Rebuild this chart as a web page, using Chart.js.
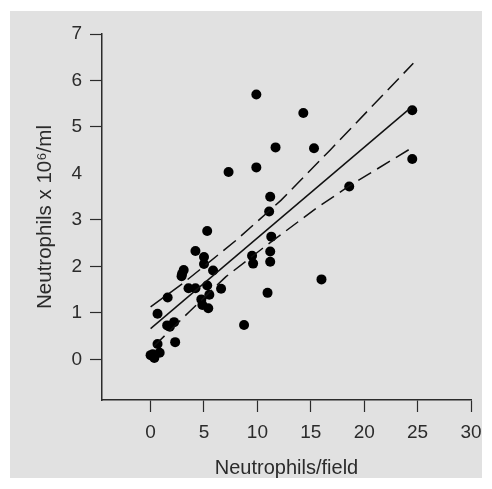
<!DOCTYPE html>
<html>
<head>
<meta charset="utf-8">
<script src="https://cdn.jsdelivr.net/npm/chart.js@4/dist/chart.umd.min.js"></script>
<style>
  html, body { margin: 0; padding: 0; background: #fff; }
  #wrap { width: 492px; height: 489px; }
</style>
</head>
<body>
<div id="wrap"><canvas id="chart" width="492" height="489"></canvas></div>
<script>
// neutrophils per field vs neutrophils x 10^6/ml
const fieldX = [9.9, 14.3, 24.5, 11.7, 15.3, 9.9, 7.3, 24.5, 18.6, 11.2, 11.1, 5.3, 11.3, 4.2, 11.2,
  5.0, 5.0, 9.5, 9.6, 11.2, 3.1, 2.95, 2.9, 5.85, 3.55, 4.2, 5.3, 6.6, 1.6, 4.75, 5.5, 4.85, 5.4,
  10.95, 16.0, 0.65, 1.55, 1.8, 2.2, 8.75, 2.3, 0.65, 0.85, 0, 0.35, 0.2]
const mlY = [5.70, 5.30, 5.36, 4.56, 4.54, 4.13, 4.03, 4.31, 3.72, 3.50, 3.18, 2.76, 2.64, 2.33, 2.32,
  2.20, 2.05, 2.23, 2.06, 2.10, 1.92, 1.84, 1.79, 1.91, 1.53, 1.53, 1.59, 1.52, 1.33, 1.29, 1.39, 1.17, 1.10,
  1.43, 1.72, 0.98, 0.73, 0.70, 0.80, 0.74, 0.37, 0.33, 0.14, 0.09, 0.03, 0.11]

// regression line and its confidence limits
const fitX = [0, 24.4]
const fitY = [0.66, 5.42]
const upperX = [0, 3, 8, 12.2, 16.8, 24.6]
const upperY = [1.13, 1.63, 2.56, 3.42, 4.50, 6.37]
const lowerX = [0.3, 3.6, 7.06, 10.5, 15.5, 18.6, 24.6]
const lowerY = [0.28, 1.02, 1.78, 2.39, 3.25, 3.73, 4.57]

const xTicks = [0, 5, 10, 15, 20, 25, 30]
const yTicks = [0, 1, 2, 3, 4, 5, 6, 7]

const toPoints = (xs, ys) => xs.map((x, i) => ({ x, y: ys[i] }))

const ink = '#2b2b2b'
const fontFamily = '"Liberation Sans", Arial, sans-serif'

const bgPlugin = {
  id: 'bg',
  beforeDraw: (chart) => {
    const c = chart.ctx
    c.save()
    c.fillStyle = '#fff'
    c.fillRect(0, 0, chart.width, chart.height)
    c.fillStyle = '#e1e1e1'
    c.fillRect(10, 11, 472, 467)
    c.restore()
  }
}

const lineSet = (data, dash) => ({
  data,
  showLine: true,
  borderColor: '#111',
  borderWidth: 1.5,
  borderDash: dash,
  pointRadius: 0,
  fill: false
})

const ctx = document.getElementById('chart')

const chart = new Chart(ctx, {
  type: 'scatter',
  data: {
    datasets: [
      lineSet(toPoints(fitX, fitY), []),
      lineSet(toPoints(upperX, upperY), [16, 7]),
      lineSet(toPoints(lowerX, lowerY), [15, 7]),
      {
        data: toPoints(fieldX, mlY),
        backgroundColor: '#000',
        borderColor: '#000',
        pointRadius: 5,
        pointBorderWidth: 0
      }
    ]
  },
  options: {
    responsive: false,
    animation: false,
    layout: { padding: { left: 0, top: 34, right: 21, bottom: 0 } },
    plugins: {
      legend: { display: false },
      tooltip: { enabled: false }
    },
    scales: {
      x: {
        type: 'linear',
        min: -4.55,
        max: 30,
        afterBuildTicks: (s) => { s.ticks = xTicks.map(v => ({ value: v })) },
        afterFit: (s) => { s.height = 89 },
        border: { display: true, color: ink, width: 1.5 },
        grid: { display: true, drawOnChartArea: false, drawTicks: true, tickLength: 12, tickColor: ink, tickWidth: 1.2 },
        ticks: { color: ink, padding: 9, font: { family: fontFamily, size: 19 } },
        title: {
          display: true,
          text: 'Neutrophils/field',
          color: ink,
          font: { family: fontFamily, size: 20 },
          padding: { top: 0, bottom: 9 }
        }
      },
      y: {
        type: 'linear',
        min: -0.875,
        max: 7,
        afterBuildTicks: (s) => { s.ticks = yTicks.map(v => ({ value: v })) },
        afterFit: (s) => { s.width = 102 },
        border: { display: true, color: ink, width: 1.5 },
        grid: {
          display: true,
          drawOnChartArea: false,
          drawTicks: true,
          tickLength: 12,
          tickWidth: 1.2,
          tickColor: (c) => c.tick && c.tick.value === 4 ? 'rgba(0,0,0,0)' : ink
        },
        ticks: { color: ink, padding: 8, font: { family: fontFamily, size: 19 } },
        title: {
          display: true,
          text: 'Neutrophils x 10⁶/ml',
          color: ink,
          font: { family: fontFamily, size: 20.5 },
          padding: { top: 32.7, bottom: 0 }
        }
      }
    }
  },
  plugins: [bgPlugin]
});
</script>
</body>
</html>
